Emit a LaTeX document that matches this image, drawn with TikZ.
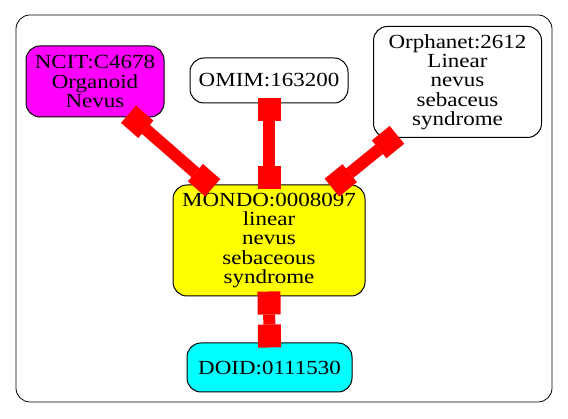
\documentclass[tikz,border=0pt]{standalone}
\usepackage{fontspec}
\setmainfont[FakeStretch=1.15]{Liberation Serif}
\usepackage{xcolor}
\usetikzlibrary{arrows.meta,positioning}
\definecolor{ncitcol}{HTML}{FF00FF}
\definecolor{mondocol}{HTML}{FFFF00}
\definecolor{doidcol}{HTML}{00FFFF}
\definecolor{linkcol}{HTML}{FF0000}

\tikzset{
  term/.style={draw=black, line width=1pt, rounded corners=14pt, align=center,
    inner sep=0pt, font=\fontsize{20}{19.3}\selectfont},
  link/.style={draw=linkcol, line width=12pt,
    >={Square[length=23pt,width=23pt,line width=0pt]}, <->,
    shorten <=-5pt, shorten >=-5pt}
}

\begin{document}
\begin{tikzpicture}[x=1pt, y=1pt]
\useasboundingbox (0,0) rectangle (568,419);
% cluster frame
\draw[line width=0.8pt, rounded corners=14pt] (16,17) rectangle (552,404);
% terms
\node[term, fill=ncitcol, minimum width=138pt, minimum height=71pt] (ncit) at (95,337.5) {NCIT:C4678\\Organoid\\Nevus};
\node[term, fill=white, minimum width=158pt, minimum height=45pt] (omim) at (269,338.5) {OMIM:163200};
\node[term, fill=white, minimum width=168pt, minimum height=111pt] (orpha) at (457.5,337) {Orphanet:2612\\Linear\\nevus\\sebaceus\\syndrome};
\node[term, fill=mondocol, minimum width=192pt, minimum height=111pt] (mondo) at (269,178.5) {MONDO:0008097\\linear\\nevus\\sebaceous\\syndrome};
\node[term, fill=doidcol, minimum width=165pt, minimum height=49pt] (doid) at (269.5,51.5) {DOID:0111530};
% links
\draw[link] (ncit.-44.6) -- (mondo.137.4);
\draw[link] (omim.south) -- (mondo.north);
\draw[link] (orpha.221) -- (mondo.40.5);
\draw[link] (mondo.south) -- (doid.north);
\end{tikzpicture}
\end{document}
